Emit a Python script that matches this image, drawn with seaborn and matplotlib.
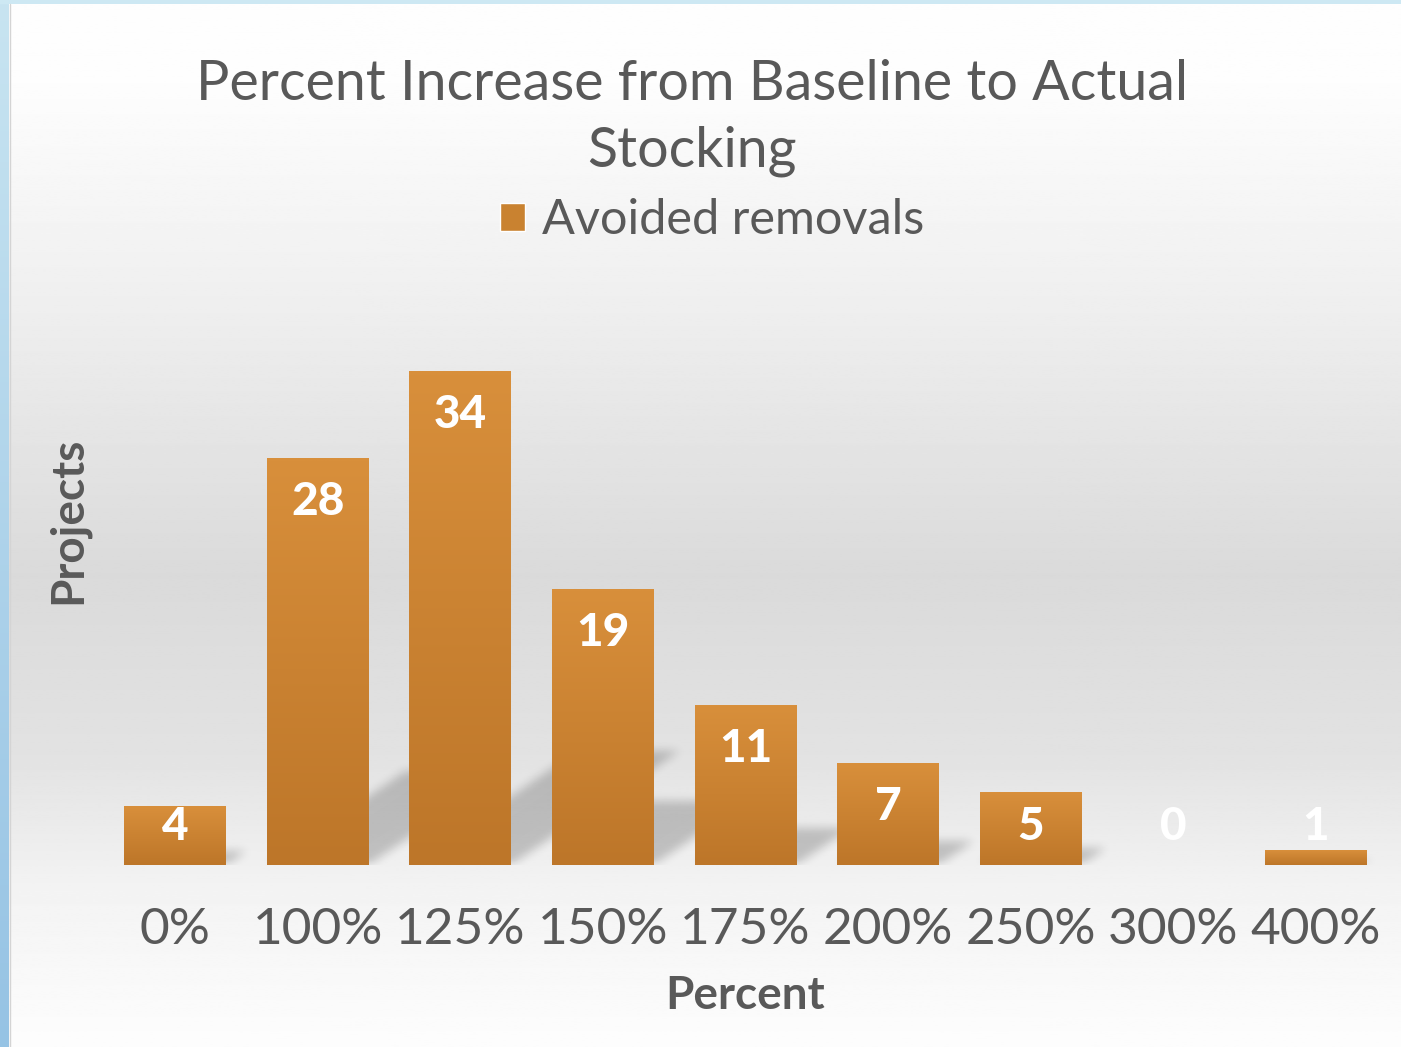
import numpy as np
import matplotlib
matplotlib.use("Agg")
import matplotlib.pyplot as plt
import seaborn as sns
import pandas as pd
from matplotlib.path import Path
from matplotlib.patches import Patch

# chart data
categories = ["0%", "100%", "125%", "150%", "175%", "200%", "250%", "300%", "400%"]
projects = [4, 28, 34, 19, 11, 7, 5, 0, 1]
series_name = "Avoided removals"
title = "Percent Increase from Baseline to Actual\nStocking"
x_label = "Percent"
y_label = "Projects"

W_PX, H_PX = 1401, 1047
TEXT = "#595959"
BAR_TOP = np.array([216, 143, 59]) / 255
BAR_BOT = np.array([189, 118, 41]) / 255
Y_TOP = 41.0

sns.set_theme(style="white")
plt.rcParams["font.family"] = ["Lato", "DejaVu Sans"]

fig = plt.figure(figsize=(W_PX / 100, H_PX / 100), dpi=100)

# background: soft vertical grey gradient with a blue window edge
bg_ax = fig.add_axes([0, 0, 1, 1], zorder=-10)
rows = np.linspace(0, 1, 500)
shade = np.interp(rows, [0.0, 0.08, 0.3, 0.55, 0.72, 0.85, 1.0],
                  [254, 253, 238, 218, 226, 243, 253]) / 255
bg_ax.imshow(np.repeat(shade[:, None], 2, axis=1), cmap="gray", vmin=0, vmax=1,
             aspect="auto", extent=[0, 1, 0, 1])
t = np.linspace(0, 1, 200)[:, None, None]
blue = (np.array([200, 228, 241]) * (1 - t) + np.array([150, 195, 228]) * t) / 255
bg_ax.imshow(blue, aspect="auto", extent=[0, 9 / W_PX, 0, 1])
bg_ax.imshow(np.full((1, 2, 3), [205 / 255, 232 / 255, 243 / 255]), aspect="auto",
             extent=[0, 1, 1 - 4 / H_PX, 1])
bg_ax.plot([9.5 / W_PX, 9.5 / W_PX], [0, 1 - 4 / H_PX], color="#d4d4d4", lw=1)
bg_ax.set_xlim(0, 1)
bg_ax.set_ylim(0, 1)
bg_ax.set_axis_off()

ax = fig.add_axes([104 / W_PX, 1 - 865 / H_PX, (1387 - 104) / W_PX, (865 - 270) / H_PX])
ax.patch.set_alpha(0)

df = pd.DataFrame({"Percent": categories, "Projects": projects})
sns.barplot(data=df, x="Percent", y="Projects", order=categories, color="#c98230",
            width=0.715, ax=ax)

ax.set_xlim(-0.5, len(categories) - 0.5)
ax.set_ylim(0, Y_TOP)

# gradient fill for each bar
grad_t = np.linspace(0, 1, 64)[:, None, None]
grad = BAR_TOP * (1 - grad_t) + BAR_BOT * grad_t
bars = list(ax.patches)
for bar in bars:
    bar.set_visible(False)
    h = bar.get_height()
    if h <= 0:
        continue
    x0 = bar.get_x()
    ax.imshow(grad, aspect="auto", extent=[x0, x0 + bar.get_width(), 0, h],
              zorder=2, interpolation="bilinear")

# soft perspective shadows behind the bars
px_x = (1387 - 104) / len(categories)
px_y = (865 - 270) / Y_TOP
gx = np.linspace(-0.5, len(categories) - 0.5, 1283)
gy = np.linspace(0, Y_TOP, 595)
GX, GY = np.meshgrid(gx, gy)
pts = np.column_stack([GX.ravel(), GY.ravel()])
mask = np.zeros(GX.size)
for bar in bars:
    h = bar.get_height()
    if h <= 0:
        continue
    x0, w = bar.get_x(), bar.get_width()
    dx = 0.34 * h * px_y / px_x
    dy = 0.23 * h
    poly = Path([(x0, 0), (x0 + w, 0), (x0 + w + dx, dy), (x0 + dx, dy), (x0, 0)])
    mask = np.maximum(mask, poly.contains_points(pts))
mask = mask.reshape(GX.shape)
kernel = np.ones(9) / 9
for _ in range(3):
    mask = np.apply_along_axis(lambda r: np.convolve(r, kernel, mode="same"), 1, mask)
    mask = np.apply_along_axis(lambda c: np.convolve(c, kernel, mode="same"), 0, mask)
shadow = np.zeros(GX.shape + (4,))
shadow[..., 3] = mask * 0.2
ax.imshow(shadow, origin="lower", aspect="auto",
          extent=[gx[0], gx[-1], gy[0], gy[-1]], zorder=1)

# value labels
for i, v in enumerate(projects):
    ax.text(i, max(v - 3.0, 2.65), str(v), ha="center", va="center",
            color="white", fontsize=33, fontweight="black", zorder=3)

ax.set_xlim(-0.5, len(categories) - 0.5)
ax.set_ylim(0, Y_TOP)
ax.set_yticks([])
ax.tick_params(axis="x", length=0, pad=30, labelsize=37, labelcolor=TEXT)
for s in ax.spines.values():
    s.set_visible(False)

ax.set_xlabel(x_label, fontsize=33, fontweight="bold", color=TEXT)
ax.xaxis.set_label_coords(0.5, -0.22)
ax.xaxis.label.set_va("center")
ax.set_ylabel(y_label, fontsize=33, fontweight="bold", color=TEXT)
ax.yaxis.set_label_coords(-0.028, 0.58)
ax.yaxis.label.set_va("center")

fig.text(692 / W_PX, 1 - 118 / H_PX, title, ha="center", va="center",
         fontsize=40, color=TEXT, linespacing=1.38)

fig.legend(handles=[Patch(facecolor="#c98230")], labels=[series_name],
           loc="center", bbox_to_anchor=(712 / W_PX, 1 - 220 / H_PX),
           frameon=False, fontsize=35, handlelength=0.5, handleheight=0.5,
           handletextpad=0.35, labelcolor=TEXT)

fig.savefig("out.png", dpi=100)
